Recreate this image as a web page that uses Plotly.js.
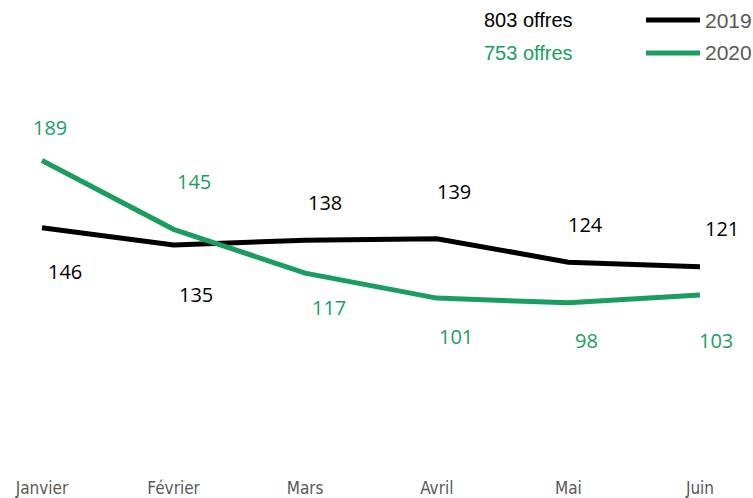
<!DOCTYPE html>
<html>
<head>
<meta charset="utf-8">
<script src="https://cdn.plot.ly/plotly-3.0.1.min.js"></script>
<style>html,body{margin:0;padding:0;background:#fff;}#chart{width:753px;height:498px;}</style>
</head>
<body>
<div id="chart"></div>
<script>
// Data
const months = ["Janvier", "Février", "Mars", "Avril", "Mai", "Juin"];
const values2019 = [146, 135, 138, 139, 124, 121];
const values2020 = [189, 145, 117, 101, 98, 103];
const seriesNames = ["2019", "2020"];
const totals = ["803 offres", "753 offres"];

// Styling
const BLACK = "#000000";
const GREEN = "#1A9E5F";
const GRAY = "#595959";
const labelFont = "Open Sans, Noto Sans, sans-serif";
// label offsets (px) relative to each point: [dx, dy(down positive)]
const off2019 = [[23, 44], [22, 50], [20, -38], [17, -47], [17, -38], [22, -38]];
const off2020 = [[8, -33], [20, -48], [24, 34], [19, 38], [18, 38], [16, 46]];

const traces = [
  {x: months, y: values2019, type: "scatter", mode: "lines", name: seriesNames[0],
   line: {color: BLACK, width: 5}, hoverinfo: "x+y"},
  {x: months, y: values2020, type: "scatter", mode: "lines", name: seriesNames[1],
   line: {color: GREEN, width: 5}, hoverinfo: "x+y"}
];

const annotations = [];
months.forEach((m, i) => {
  annotations.push({x: m, y: values2019[i], xref: "x", yref: "y", text: String(values2019[i]),
    showarrow: false, xshift: off2019[i][0], yshift: -off2019[i][1],
    font: {family: labelFont, size: 20, color: BLACK}});
  annotations.push({x: m, y: values2020[i], xref: "x", yref: "y", text: String(values2020[i]),
    showarrow: false, xshift: off2020[i][0], yshift: -off2020[i][1],
    font: {family: labelFont, size: 20, color: GREEN}});
});

// custom legend
const W = 753, H = 456;
const legendRows = [20, 53];
const colors = [BLACK, GREEN];
const shapes = [];
legendRows.forEach((py, k) => {
  const yp = (H - py) / H;
  shapes.push({type: "line", xref: "paper", yref: "paper", x0: 646 / W, x1: 700 / W, y0: yp, y1: yp,
    line: {color: colors[k], width: 5}, layer: "above"});
  annotations.push({xref: "paper", yref: "paper", x: 703 / W, y: yp, xanchor: "left", yanchor: "middle",
    text: seriesNames[k], showarrow: false, font: {family: "Liberation Sans, Arial, sans-serif", size: 21, color: GRAY}});
  annotations.push({xref: "paper", yref: "paper", x: 482 / W, y: yp, xanchor: "left", yanchor: "middle",
    text: totals[k], showarrow: false, font: {family: "Liberation Sans, Arial, sans-serif", size: 20, color: colors[k]}});
});

const layout = {
  width: 753, height: 498,
  margin: {l: 0, r: 0, t: 0, b: 42},
  paper_bgcolor: "#ffffff", plot_bgcolor: "#ffffff",
  showlegend: false,
  xaxis: {type: "category", range: [-0.319, 5.403], showgrid: false, zeroline: false, showline: false,
    ticks: "", ticklabelstandoff: 20, automargin: false,
    tickfont: {family: "Liberation Sans Narrow, DejaVu Sans Condensed, sans-serif", size: 17, color: GRAY}},
  yaxis: {range: [0, 291.7], showgrid: false, zeroline: false, showline: false, showticklabels: false,
    ticks: "", automargin: false},
  annotations: annotations,
  shapes: shapes
};

Plotly.newPlot("chart", traces, layout, {displayModeBar: false, staticPlot: true});
</script>
</body>
</html>
